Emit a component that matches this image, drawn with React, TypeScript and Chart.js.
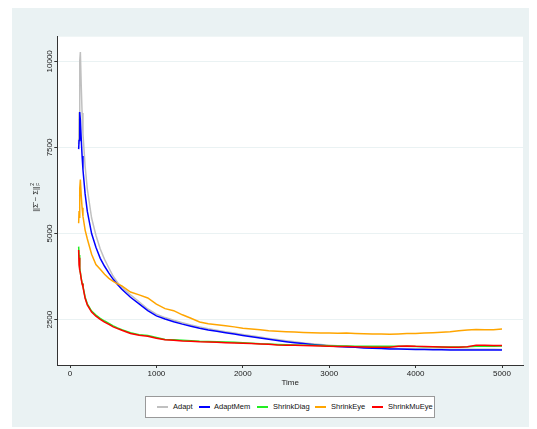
import React, { useEffect, useRef } from "react";
import { Chart, registerables } from "chart.js";

Chart.register(...registerables);

const times = [
  100, 105, 110, 115, 120, 130, 140, 150, 175, 200, 250, 300, 350, 400, 450, 500, 550,
  600, 700, 800, 900, 1000, 1100, 1200, 1300, 1400, 1500, 1600, 1700, 1800, 1900, 2000,
  2100, 2200, 2300, 2400, 2500, 2600, 2700, 2800, 2900, 3000, 3100, 3200, 3300, 3400, 3500,
  3600, 3700, 3800, 3900, 4000, 4100, 4200, 4300, 4400, 4500, 4600, 4700, 4800, 4900, 5000,
];

const adapt = [
  7600, 8500, 9300, 10000, 10270, 9300, 8500, 7900, 6950, 6300, 5450, 4950, 4550, 4250, 4000, 3760, 3580,
  3440, 3220, 3020, 2810, 2660, 2560, 2480, 2410, 2345, 2290, 2235, 2190, 2150, 2110, 2070,
  2030, 1995, 1955, 1920, 1885, 1855, 1825, 1800, 1775, 1755, 1740, 1725, 1712, 1700, 1690,
  1680, 1672, 1665, 1660, 1655, 1650, 1647, 1645, 1642, 1640, 1638, 1640, 1640, 1638, 1636,
];

const adaptMem = [
  7450, 7700, 8100, 8530, 8300, 7750, 7250, 6850, 6150, 5650, 5000, 4600, 4280, 4050, 3850, 3670, 3520,
  3380, 3150, 2960, 2760, 2610, 2520, 2440, 2370, 2310, 2250, 2200, 2160, 2120, 2080, 2040,
  2005, 1965, 1930, 1895, 1860, 1830, 1805, 1780, 1755, 1735, 1720, 1705, 1695, 1680, 1670,
  1660, 1650, 1645, 1640, 1635, 1630, 1628, 1625, 1620, 1618, 1615, 1620, 1622, 1618, 1615,
];

const shrinkDiag = [
  4620, 4380, 4200, 4000, 3870, 3700, 3560, 3470, 3150, 2960, 2750, 2630, 2540, 2460, 2390, 2320, 2260,
  2210, 2120, 2065, 2040, 1980, 1925, 1915, 1900, 1890, 1870, 1865, 1860, 1850, 1840, 1830,
  1815, 1800, 1795, 1780, 1770, 1765, 1760, 1755, 1750, 1745, 1738, 1735, 1730, 1728, 1725,
  1725, 1730, 1728, 1725, 1720, 1715, 1712, 1708, 1705, 1705, 1712, 1725, 1728, 1730, 1732,
];

const shrinkEye = [
  5300, 5650, 5450, 6300, 6570, 6100, 5750, 5500, 5100, 4850, 4400, 4100, 3960, 3820, 3700, 3610, 3540,
  3480, 3300, 3220, 3130, 2950, 2820, 2760, 2640, 2540, 2430, 2380, 2350, 2320, 2290, 2250,
  2225, 2205, 2180, 2165, 2150, 2140, 2130, 2120, 2115, 2110, 2105, 2110, 2100, 2090, 2085,
  2080, 2075, 2085, 2095, 2100, 2110, 2120, 2135, 2150, 2175, 2200, 2215, 2205, 2210, 2225,
];

const shrinkMuEye = [
  4520, 4090, 4300, 3940, 3850, 3680, 3540, 3450, 3120, 2930, 2720, 2600, 2510, 2430, 2360, 2290, 2240,
  2190, 2100, 2045, 2020, 1960, 1915, 1900, 1880, 1875, 1855, 1850, 1845, 1830, 1820, 1815,
  1805, 1795, 1785, 1765, 1755, 1758, 1750, 1742, 1738, 1730, 1722, 1718, 1712, 1705, 1700,
  1698, 1700, 1730, 1735, 1725, 1722, 1715, 1705, 1700, 1700, 1715, 1760, 1755, 1752, 1750,
];

const seriesNames = ["Adapt", "AdaptMem", "ShrinkDiag", "ShrinkEye", "ShrinkMuEye"];
const seriesColors = ["#c0c0c0", "#0000ff", "#22ee22", "#ffa500", "#ff0000"];
const seriesValues = [adapt, adaptMem, shrinkDiag, shrinkEye, shrinkMuEye];

const xTicks = [0, 1000, 2000, 3000, 4000, 5000];
const yTicks = [2500, 5000, 7500, 10000];
const xTitle = "Time";

const FONT = "'Liberation Sans', Arial, sans-serif";

export default function App() {
  const ref = useRef<HTMLCanvasElement | null>(null);

  useEffect(() => {
    if (!ref.current) return;
    const plugin = {
      id: "stataDecor",
      beforeDraw(chart: any) {
        const { ctx, chartArea } = chart;
        ctx.save();
        ctx.fillStyle = "#ffffff";
        ctx.fillRect(chartArea.left, chartArea.top, chartArea.right - chartArea.left, chartArea.bottom - chartArea.top);
        ctx.restore();
      },
      afterDraw(chart: any) {
        const { ctx, chartArea } = chart;
        const yScale = chart.scales.y;
        ctx.save();
        ctx.fillStyle = "#222";
        ctx.font = `8px ${FONT}`;
        ctx.textAlign = "center";
        ctx.textBaseline = "middle";
        for (const v of yTicks) {
          const y = yScale.getPixelForValue(v);
          ctx.save();
          ctx.translate(chartArea.left - 7.5, y);
          ctx.rotate(-Math.PI / 2);
          ctx.fillText(String(v), 0, 0);
          ctx.restore();
        }
        // x title
        ctx.font = `8px ${FONT}`;
        ctx.fillText(xTitle, (chartArea.left + chartArea.right) / 2, chartArea.bottom + 18);
        // y title: ||Σ̂ − Σ||²_F
        ctx.save();
        ctx.translate(24, 189);
        ctx.rotate(-Math.PI / 2);
        ctx.font = `7.5px ${FONT}`;
        const main = "||Σ̂ − Σ||";
        const w = ctx.measureText(main).width;
        ctx.font = `5px ${FONT}`;
        const sw = Math.max(ctx.measureText("2").width, ctx.measureText("F").width);
        const total = w + sw + 1;
        ctx.textAlign = "left";
        ctx.font = `7.5px ${FONT}`;
        ctx.fillText(main, -total / 2, 0);
        ctx.font = `5px ${FONT}`;
        ctx.fillText("2", -total / 2 + w + 0.5, -3);
        ctx.fillText("F", -total / 2 + w + 0.5, 3);
        ctx.restore();
        ctx.restore();
      },
    };

    const chart = new Chart(ref.current, {
      type: "line",
      data: {
        datasets: seriesNames.map((name, i) => ({
          label: name,
          data: times.map((t, j) => ({ x: t, y: seriesValues[i][j] })),
          borderColor: seriesColors[i],
          backgroundColor: seriesColors[i],
          borderWidth: 1.5,
          pointRadius: 0,
          tension: 0,
          fill: false,
          order: seriesNames.length - i,
        })),
      },
      options: {
        responsive: false,
        animation: false,
        layout: { padding: { top: 28.7, right: 14, left: 0, bottom: 0 } },
        plugins: { legend: { display: false }, tooltip: { enabled: false }, title: { display: false } },
        scales: {
          x: {
            type: "linear",
            min: -147,
            max: 5243,
            afterBuildTicks: (scale: any) => {
              scale.ticks = xTicks.map((v) => ({ value: v }));
            },
            afterFit: (scale: any) => {
              scale.height = 62;
            },
            ticks: {
              font: { size: 8, family: FONT },
              color: "#222",
              padding: 1,
              maxRotation: 0,
              minRotation: 0,
              autoSkip: false,
              callback: (v: any) => String(v),
            },
            grid: { drawOnChartArea: false, drawTicks: true, tickLength: 3, tickColor: "#333" },
            border: { display: true, color: "#333", width: 1 },
          },
          y: {
            type: "linear",
            min: 1183,
            max: 10715,
            afterBuildTicks: (scale: any) => {
              scale.ticks = yTicks.map((v) => ({ value: v }));
            },
            afterFit: (scale: any) => {
              scale.width = 45.3;
            },
            ticks: { display: false },
            grid: { color: "#eaf2f3", lineWidth: 1, drawTicks: true, tickLength: 3, tickColor: "#333" },
            border: { display: true, color: "#333", width: 1 },
          },
        },
      },
      plugins: [plugin],
    });
    return () => chart.destroy();
  }, []);

  const lineLeft = [11, 53, 111, 169, 226];
  const textLeft = [27, 68, 127, 185, 242];

  return (
    <div style={{ position: "relative", marginLeft: 4, width: 525, height: 419, background: "#eaf2f3" }}>
      <canvas ref={ref} width={525} height={419} style={{ position: "absolute", left: 0, top: 0, width: 525, height: 419 }} />
      <div
        style={{
          position: "absolute",
          left: 133,
          top: 388,
          width: 290,
          height: 22,
          boxSizing: "border-box",
          background: "#fff",
          border: "1px solid #999",
          fontFamily: FONT,
          fontSize: 7.5,
          color: "#111",
        }}
      >
        {seriesNames.map((name, i) => (
          <React.Fragment key={name}>
            <div
              style={{
                position: "absolute",
                left: lineLeft[i],
                top: 9,
                width: 11,
                height: 2,
                background: seriesColors[i],
              }}
            />
            <div style={{ position: "absolute", left: textLeft[i], top: 5, lineHeight: "10px", whiteSpace: "nowrap" }}>
              {name}
            </div>
          </React.Fragment>
        ))}
      </div>
    </div>
  );
}
